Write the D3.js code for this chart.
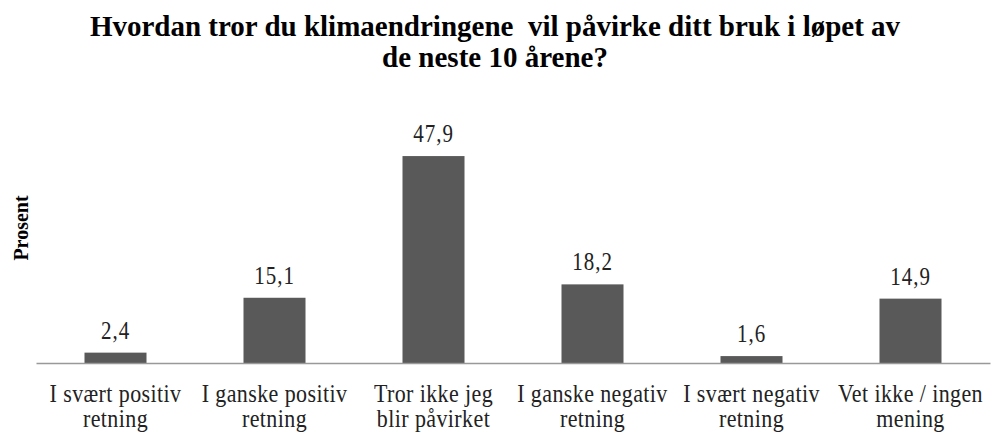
<!DOCTYPE html>
<html>
<head>
<meta charset="utf-8">
<script src="https://cdn.jsdelivr.net/npm/d3@7"></script>
<style>
  body { margin: 0; background: #fff; }
  svg text { font-family: "Liberation Serif", "Times New Roman", serif; }
</style>
</head>
<body>
<div id="chart"></div>
<script>
// Data
const categories = [
    ["I svært positiv", "retning"],
    ["I ganske positiv", "retning"],
    ["Tror ikke jeg", "blir påvirket"],
    ["I ganske negativ", "retning"],
    ["I svært negativ", "retning"],
    ["Vet ikke / ingen", "mening"]
];
const values = [2.4, 15.1, 47.9, 18.2, 1.6, 14.9];
const titleLines = [
    "Hvordan tror du klimaendringene  vil påvirke ditt bruk i løpet av",
    "de neste 10 årene?"
];
const yLabel = "Prosent";

const width = 991, height = 434;
const margin = { left: 36, right: 1, baseline: 363 };
const stretch = 1.18; // the source text is drawn a bit taller than wide

const svg = d3.select("#chart")
    .append("svg")
    .attr("width", width)
    .attr("height", height);

// Scales
const x = d3.scaleBand()
    .domain(d3.range(categories.length))
    .range([margin.left, width - margin.right])
    .paddingInner(0.61)
    .paddingOuter(0.305);

const y = d3.scaleLinear()
    .domain([0, 50])
    .range([margin.baseline, margin.baseline - 216]);

// Title
svg.append("g")
    .selectAll("text")
    .data(titleLines)
    .enter().append("text")
    .attr("x", 495)
    .attr("y", (d, i) => 36 + i * 31)
    .attr("text-anchor", "middle")
    .style("font-size", "29px")
    .style("font-weight", "bold")
    .style("white-space", "pre")
    .attr("fill", "#000")
    .text(d => d);

// Y axis label
svg.append("text")
    .attr("transform", `translate(28,228) rotate(-90)`)
    .attr("text-anchor", "middle")
    .style("font-size", "20px")
    .style("font-weight", "bold")
    .attr("fill", "#000")
    .text(yLabel);

// Bars
svg.selectAll("rect.bar")
    .data(values)
    .enter().append("rect")
    .attr("class", "bar")
    .attr("x", (d, i) => x(i))
    .attr("width", x.bandwidth())
    .attr("y", d => y(d))
    .attr("height", d => y(0) - y(d))
    .attr("fill", "#595959");

// Value labels
svg.selectAll("text.val")
    .data(values)
    .enter().append("text")
    .attr("class", "val")
    .attr("transform", (d, i) =>
        `translate(${x(i) + x.bandwidth() / 2},${y(d) - 14}) scale(1,${stretch})`)
    .attr("text-anchor", "middle")
    .style("font-size", "21px")
    .style("letter-spacing", "1px")
    .attr("fill", "#222")
    .text(d => d.toFixed(1).replace(".", ","));

// Baseline (x axis without ticks)
const xAxis = svg.append("g")
    .attr("transform", `translate(0,${y(0)})`)
    .call(d3.axisBottom(x).tickSize(0).tickFormat(""));
xAxis.select(".domain")
    .attr("stroke", "#999")
    .attr("stroke-width", 1.5);

// Category labels
const catG = svg.selectAll("text.cat")
    .data(categories)
    .enter().append("text")
    .attr("class", "cat")
    .attr("transform", (d, i) => `translate(${x(i) + x.bandwidth() / 2},402) scale(1,${stretch})`)
    .attr("text-anchor", "middle")
    .style("font-size", "22px")
    .style("letter-spacing", "0.4px")
    .attr("fill", "#222");
catG.selectAll("tspan")
    .data(d => d)
    .enter().append("tspan")
    .attr("x", 0)
    .attr("y", (d, j) => j * 25 / stretch)
    .text(d => d);
</script>
</body>
</html>
